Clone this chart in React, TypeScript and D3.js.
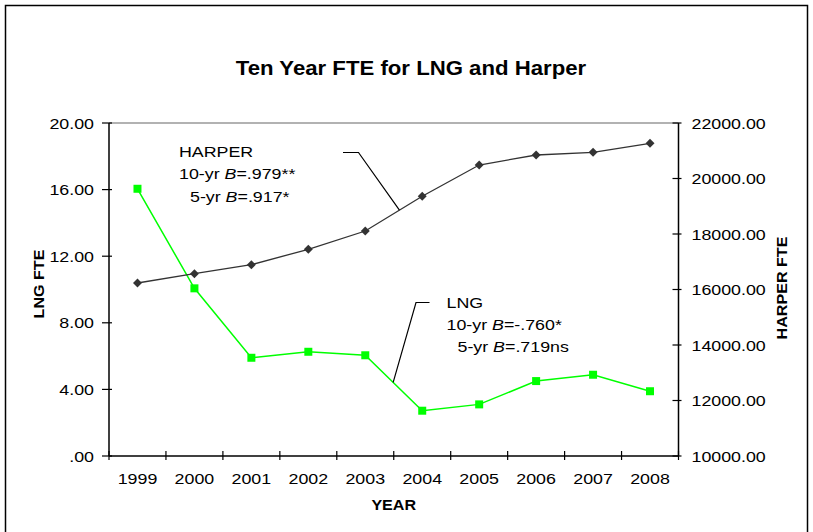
import { scaleBand, scaleLinear, line, symbol, symbolSquare } from 'd3'

const years = ['1999', '2000', '2001', '2002', '2003', '2004', '2005', '2006', '2007', '2008']
const lngFte = [16.05, 10.07, 5.9, 6.26, 6.05, 2.72, 3.1, 4.5, 4.88, 3.89]
const harperFte = [16234, 16570, 16894, 17449, 18108, 19359, 20486, 20847, 20944, 21268]
const lngTicks = [0, 4, 8, 12, 16, 20]
const harperTicks = [10000, 12000, 14000, 16000, 18000, 20000, 22000]

const width = 813,
      height = 532,
      margin = { top: 123, right: 134.5, bottom: 76, left: 109 },
      font = 'Arial, "Liberation Sans", sans-serif',
      sx = 1.15,
      green = '#00ff00',
      dark = '#333333'

const Txt = ({ x, y, anchor = 'start', size = 15.5, bold = false, rotate = 0, children }: any) => (
  <text
    transform={`translate(${x},${y})${rotate ? ` rotate(${rotate})` : ''} scale(${sx},1)`}
    textAnchor={anchor}
    fontFamily={font}
    fontSize={size}
    fontWeight={bold ? 'bold' : 'normal'}
    fill='#000'
  >{children}</text>
)

const fmt = (v: number) => v === 0 ? '.00' : v.toFixed(2)

export default function App() {
  const x0 = margin.left, x1 = width - margin.right
  const y0 = height - margin.bottom, y1 = margin.top

  const xScale = scaleBand().domain(years).range([x0, x1])
  const cx = (i: number) => xScale(years[i])! + xScale.bandwidth() / 2
  const yL = scaleLinear().domain([0, 20]).range([y0, y1])
  const yR = scaleLinear().domain([10000, 22000]).range([y0, y1])

  const lngLine = line<number>().x((_, i) => cx(i)).y(d => yL(d))(lngFte)
  const harperLine = line<number>().x((_, i) => cx(i)).y(d => yR(d))(harperFte)

  const diamond = symbol(symbolSquare, 40)()
  const square = symbol(symbolSquare, 64)()

  // leader lines end on the segments between 2003 and 2004
  const along = (i: number, t: number, ys: (i: number) => number) =>
    [cx(i) + t * (cx(i + 1) - cx(i)), ys(i) + t * (ys(i + 1) - ys(i))]
  const hEnd = along(4, 0.6, i => yR(harperFte[i]))
  const lEnd = along(4, 0.49, i => yL(lngFte[i]))

  return (
    <svg width={width} height={height} style={{ position: 'absolute', left: 0, top: 0, background: '#fff' }}>
      <rect x={5.5} y={5.5} width={802} height={540} fill='none' stroke='#000' strokeWidth={1.5} />

      <Txt x={411} y={75} anchor='middle' size={19.3} bold>Ten Year FTE for LNG and Harper</Txt>

      {/* plot frame */}
      <line x1={x0} x2={x1} y1={y1} y2={y1} stroke='#999' strokeWidth={1.5} />
      <line x1={x0} x2={x0} y1={y1} y2={y0} stroke='#000' strokeWidth={1.5} />
      <line x1={x1} x2={x1} y1={y1} y2={y0} stroke='#000' strokeWidth={1.5} />
      <line x1={x0} x2={x1} y1={y0} y2={y0} stroke='#000' strokeWidth={1.5} />

      {/* left axis */}
      {lngTicks.map(t => (
        <g key={t}>
          <line x1={x0 - 7} x2={x0 + 3} y1={yL(t)} y2={yL(t)} stroke='#000' strokeWidth={1.2} />
          <Txt x={x0 - 15} y={yL(t) + 5.5} anchor='end'>{fmt(t)}</Txt>
        </g>
      ))}
      <Txt x={44} y={284} anchor='middle' size={14} bold rotate={-90}>LNG FTE</Txt>

      {/* right axis */}
      {harperTicks.map(t => (
        <g key={t}>
          <line x1={x1 - 6} x2={x1 + 3} y1={yR(t)} y2={yR(t)} stroke='#000' strokeWidth={1.2} />
          <Txt x={x1 + 13} y={yR(t) + 5.5}>{fmt(t)}</Txt>
        </g>
      ))}
      <Txt x={787} y={288} anchor='middle' size={14} bold rotate={-90}>HARPER FTE</Txt>

      {/* x axis */}
      {years.concat(['end']).map((yr, i) => {
        const tx = i < years.length ? xScale(yr)! : x1
        return <line key={yr} x1={tx} x2={tx} y1={y0 - 5} y2={y0 + 4} stroke='#000' strokeWidth={1.2} />
      })}
      {years.map((yr, i) => (
        <Txt key={yr} x={cx(i)} y={484} anchor='middle'>{yr}</Txt>
      ))}
      <Txt x={(x0 + x1) / 2} y={510} anchor='middle' size={14} bold>YEAR</Txt>

      {/* series */}
      <path d={lngLine!} fill='none' stroke={green} strokeWidth={1.5} />
      <path d={harperLine!} fill='none' stroke={dark} strokeWidth={1.3} />
      {harperFte.map((d, i) => (
        <path key={i} d={diamond!} transform={`translate(${cx(i)},${yR(d)}) rotate(45)`} fill={dark} />
      ))}
      {lngFte.map((d, i) => (
        <path key={i} d={square!} transform={`translate(${cx(i)},${yL(d)})`} fill={green} />
      ))}

      {/* annotations */}
      <polyline points={`343,152.5 358.5,152.5 ${hEnd[0]},${hEnd[1]}`} fill='none' stroke='#000' strokeWidth={1.2} />
      <Txt x={179} y={156.5}>HARPER</Txt>
      <Txt x={179} y={179}>10-yr <tspan fontStyle='italic'>B</tspan>=.979**</Txt>
      <Txt x={190} y={201.5}>5-yr <tspan fontStyle='italic'>B</tspan>=.917*</Txt>

      <polyline points={`429.5,302.5 416,302.5 ${lEnd[0]},${lEnd[1]}`} fill='none' stroke='#000' strokeWidth={1.2} />
      <Txt x={446.5} y={307.5}>LNG</Txt>
      <Txt x={446.5} y={330}>10-yr <tspan fontStyle='italic'>B</tspan>=-.760*</Txt>
      <Txt x={457.5} y={352}>5-yr <tspan fontStyle='italic'>B</tspan>=.719ns</Txt>
    </svg>
  )
}
